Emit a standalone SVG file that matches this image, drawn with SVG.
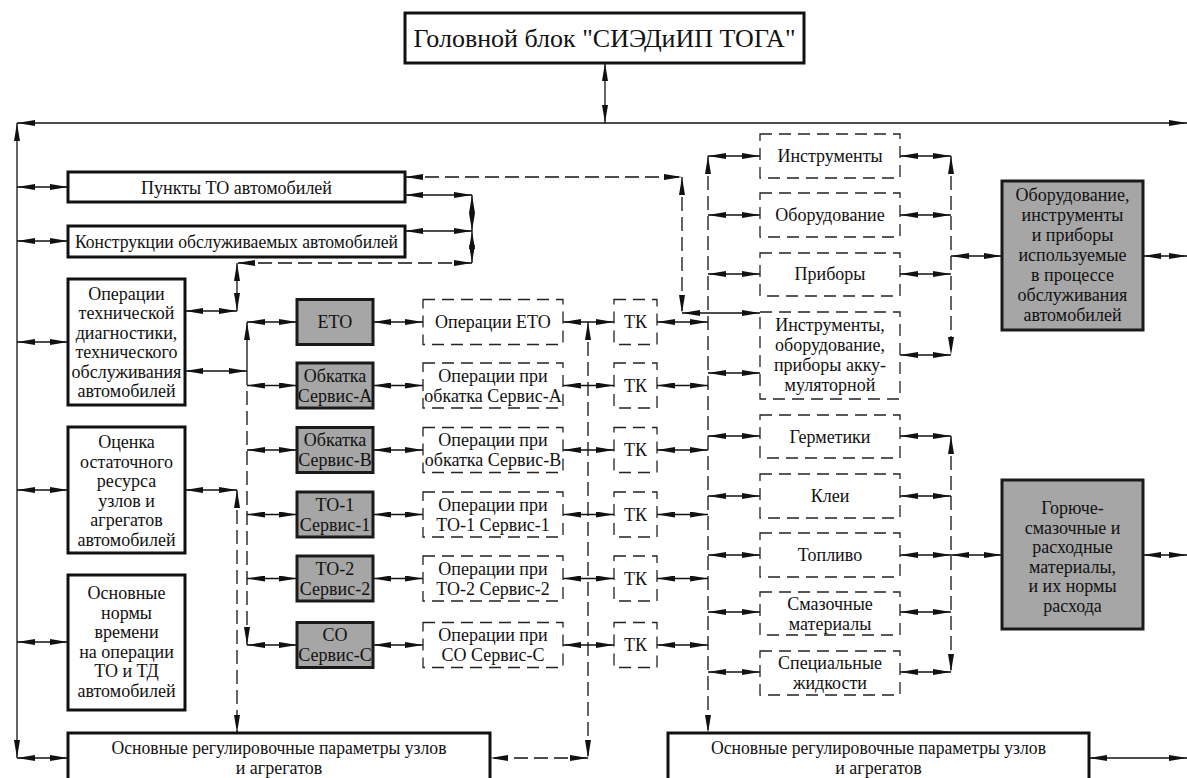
<svg xmlns="http://www.w3.org/2000/svg" width="1187" height="778" viewBox="0 0 1187 778" font-family="'Liberation Serif', 'Times New Roman', serif">
<defs>
<marker id="ah" viewBox="0 0 18 6" refX="18" refY="3" markerWidth="18" markerHeight="6" markerUnits="userSpaceOnUse" orient="auto-start-reverse">
<path d="M0,0 L18,3 L0,6 z" fill="#111"/>
</marker>
<style>
text{font-family:"Liberation Serif","Times New Roman",serif;font-size:18px;fill:#111;text-anchor:middle}
.big{font-size:26px}
.sb{fill:#fff;stroke:#111;stroke-width:3}
.gb{fill:#a6a6a6;stroke:#1a1a1a;stroke-width:3}
.db{fill:#fff;stroke:#222;stroke-width:1.3;stroke-dasharray:12 7}
.c line{stroke:#111;stroke-width:1.3;fill:none;marker-start:url(#ah);marker-end:url(#ah)}
.c .d{stroke-dasharray:14 6}
</style>
</defs>
<rect width="1187" height="778" fill="#fff"/>

<g class="c" id="connectors">
<line x1="605" y1="63" x2="605" y2="123"/>
<line x1="17" y1="123" x2="1187" y2="123"/>
<line x1="17" y1="123" x2="17" y2="758"/>
<line x1="17" y1="758" x2="68" y2="758"/>
<line x1="17" y1="187" x2="68" y2="187"/>
<line x1="17" y1="241" x2="68" y2="241"/>
<line x1="17" y1="342" x2="68" y2="342"/>
<line x1="17" y1="490" x2="68" y2="490"/>
<line x1="17" y1="642" x2="68" y2="642"/>
<line x1="405" y1="195" x2="472" y2="195"/>
<line x1="405" y1="231" x2="472" y2="231"/>
<line x1="472" y1="195" x2="472" y2="231"/>
<line class="d" x1="472" y1="231" x2="472" y2="263"/>
<line class="d" x1="472" y1="263" x2="237" y2="263"/>
<line x1="237" y1="263" x2="237" y2="311"/>
<line x1="185" y1="311" x2="237" y2="311"/>
<line class="d" x1="405" y1="177" x2="682" y2="177"/>
<line class="d" x1="682" y1="177" x2="682" y2="313"/>
<line x1="682" y1="313" x2="760" y2="313"/>
<line x1="185" y1="371" x2="247" y2="371"/>
<line x1="247" y1="322" x2="247" y2="371" style="marker-end:none"/>
<line class="d" x1="247" y1="371" x2="247" y2="645" style="marker-start:none"/>
<line x1="185" y1="490" x2="237" y2="490"/>
<line class="d" x1="237" y1="490" x2="237" y2="733"/>
<line x1="247" y1="322" x2="297" y2="322"/>
<line x1="247" y1="385.5" x2="297" y2="385.5"/>
<line x1="247" y1="450" x2="297" y2="450"/>
<line x1="247" y1="514.5" x2="297" y2="514.5"/>
<line x1="247" y1="578.5" x2="297" y2="578.5"/>
<line x1="247" y1="645" x2="297" y2="645"/>
<line x1="373" y1="322" x2="423" y2="322"/>
<line x1="373" y1="385.5" x2="423" y2="385.5"/>
<line x1="373" y1="450" x2="423" y2="450"/>
<line x1="373" y1="514.5" x2="423" y2="514.5"/>
<line x1="373" y1="578.5" x2="423" y2="578.5"/>
<line x1="373" y1="645" x2="423" y2="645"/>
<line x1="563" y1="322" x2="614" y2="322"/>
<line x1="563" y1="385.5" x2="614" y2="385.5"/>
<line x1="563" y1="450" x2="614" y2="450"/>
<line x1="563" y1="514.5" x2="614" y2="514.5"/>
<line x1="563" y1="578.5" x2="614" y2="578.5"/>
<line x1="563" y1="645" x2="614" y2="645"/>
<line x1="657" y1="322" x2="708" y2="322"/>
<line x1="657" y1="385.5" x2="708" y2="385.5"/>
<line x1="657" y1="450" x2="708" y2="450"/>
<line x1="657" y1="514.5" x2="708" y2="514.5"/>
<line x1="657" y1="578.5" x2="708" y2="578.5"/>
<line x1="657" y1="645" x2="708" y2="645"/>
<line class="d" x1="588" y1="322" x2="588" y2="758"/>
<line class="d" x1="588" y1="758" x2="490" y2="758"/>
<line class="d" x1="708" y1="156" x2="708" y2="733"/>
<line x1="708" y1="156" x2="760" y2="156"/>
<line x1="708" y1="215" x2="760" y2="215"/>
<line x1="708" y1="274" x2="760" y2="274"/>
<line x1="708" y1="373" x2="760" y2="373"/>
<line x1="708" y1="436" x2="760" y2="436"/>
<line x1="708" y1="496" x2="760" y2="496"/>
<line x1="708" y1="555" x2="760" y2="555"/>
<line x1="708" y1="612" x2="760" y2="612"/>
<line x1="708" y1="672" x2="760" y2="672"/>
<line x1="900" y1="156" x2="951" y2="156"/>
<line x1="900" y1="215" x2="951" y2="215"/>
<line x1="900" y1="274" x2="951" y2="274"/>
<line x1="900" y1="355" x2="951" y2="355"/>
<line class="d" x1="951" y1="156" x2="951" y2="355"/>
<line x1="900" y1="436" x2="951" y2="436"/>
<line x1="900" y1="496" x2="951" y2="496"/>
<line x1="900" y1="555" x2="951" y2="555"/>
<line x1="900" y1="612" x2="951" y2="612"/>
<line x1="900" y1="672" x2="951" y2="672"/>
<line class="d" x1="951" y1="436" x2="951" y2="672"/>
<line x1="951" y1="256" x2="1002" y2="256"/>
<line x1="1143" y1="256" x2="1187" y2="256"/>
<line x1="951" y1="555" x2="1002" y2="555"/>
<line x1="1143" y1="555" x2="1187" y2="555"/>
<line x1="1089" y1="758" x2="1187" y2="758"/>
</g>

<g id="head"><rect class="sb" x="405" y="13" width="399" height="50"/><text class="big" x="604.5" y="47">Головной блок "СИЭДиИП ТОГА"</text></g>

<g id="punkty"><rect class="sb" x="68" y="172" width="337" height="30"/><text x="236.5" y="193.5">Пункты ТО автомобилей</text></g>
<g id="konstr"><rect class="sb" x="68" y="226" width="337" height="31"/><text x="236.5" y="247.5" textLength="323" lengthAdjust="spacingAndGlyphs">Конструкции обслуживаемых автомобилей</text></g>
<g id="operacii"><rect class="sb" x="68" y="279" width="117" height="126"/>
<text x="126.5" y="299.5">Операции</text><text x="126.5" y="319">технической</text><text x="126.5" y="338.5">диагностики,</text><text x="126.5" y="358">технического</text><text x="126.5" y="377.5">обслуживания</text><text x="126.5" y="397">автомобилей</text></g>
<g id="ocenka"><rect class="sb" x="68" y="427" width="117" height="126"/>
<text x="126.5" y="448">Оценка</text><text x="126.5" y="467.5">остаточного</text><text x="126.5" y="487">ресурса</text><text x="126.5" y="506.5">узлов и</text><text x="126.5" y="526">агрегатов</text><text x="126.5" y="545.5">автомобилей</text></g>
<g id="normy"><rect class="sb" x="68" y="575" width="117" height="135"/>
<text x="126.5" y="599">Основные</text><text x="126.5" y="618.5">нормы</text><text x="126.5" y="638">времени</text><text x="126.5" y="657.5">на операции</text><text x="126.5" y="677">ТО и ТД</text><text x="126.5" y="696.5">автомобилей</text></g>
<g id="reg1"><rect class="sb" x="68" y="733" width="422" height="60"/><text x="279" y="754" textLength="335" lengthAdjust="spacingAndGlyphs">Основные регулировочные параметры узлов</text><text x="279" y="773.5">и агрегатов</text></g>
<g id="reg2"><rect class="sb" x="668" y="733" width="421" height="60"/><text x="878.5" y="754" textLength="335" lengthAdjust="spacingAndGlyphs">Основные регулировочные параметры узлов</text><text x="878.5" y="773.5">и агрегатов</text></g>

<g id="eto"><rect class="gb" x="297" y="299.5" width="76" height="45"/><text x="335" y="328">ЕТО</text></g>
<g id="obkA"><rect class="gb" x="297" y="363" width="76" height="45"/><text x="335" y="381.5">Обкатка</text><text x="335" y="401.5">Сервис-А</text></g>
<g id="obkB"><rect class="gb" x="297" y="427.5" width="76" height="45"/><text x="335" y="446">Обкатка</text><text x="335" y="466">Сервис-В</text></g>
<g id="to1"><rect class="gb" x="297" y="492" width="76" height="45"/><text x="335" y="510.5">ТО-1</text><text x="335" y="530.5">Сервис-1</text></g>
<g id="to2"><rect class="gb" x="297" y="556" width="76" height="45"/><text x="335" y="574.5">ТО-2</text><text x="335" y="594.5">Сервис-2</text></g>
<g id="co"><rect class="gb" x="297" y="622.5" width="76" height="45"/><text x="335" y="641">СО</text><text x="335" y="661">Сервис-С</text></g>

<g id="opEto"><rect class="db" x="423" y="299.5" width="140" height="45"/><text x="493" y="328">Операции ЕТО</text></g>
<g id="opA"><rect class="db" x="423" y="363" width="140" height="45"/><text x="493" y="381.5">Операции при</text><text x="493" y="401.5">обкатка Сервис-А</text></g>
<g id="opB"><rect class="db" x="423" y="427.5" width="140" height="45"/><text x="493" y="446">Операции при</text><text x="493" y="466">обкатка Сервис-В</text></g>
<g id="op1"><rect class="db" x="423" y="492" width="140" height="45"/><text x="493" y="510.5">Операции при</text><text x="493" y="530.5">ТО-1 Сервис-1</text></g>
<g id="op2"><rect class="db" x="423" y="556" width="140" height="45"/><text x="493" y="574.5">Операции при</text><text x="493" y="594.5">ТО-2 Сервис-2</text></g>
<g id="opC"><rect class="db" x="423" y="622.5" width="140" height="45"/><text x="493" y="641">Операции при</text><text x="493" y="661">СО Сервис-С</text></g>

<g id="tk1"><rect class="db" x="614" y="299.5" width="43" height="45"/><text x="635.5" y="328">ТК</text></g>
<g id="tk2"><rect class="db" x="614" y="363" width="43" height="45"/><text x="635.5" y="391.5">ТК</text></g>
<g id="tk3"><rect class="db" x="614" y="427.5" width="43" height="45"/><text x="635.5" y="456">ТК</text></g>
<g id="tk4"><rect class="db" x="614" y="492" width="43" height="45"/><text x="635.5" y="520.5">ТК</text></g>
<g id="tk5"><rect class="db" x="614" y="556" width="43" height="45"/><text x="635.5" y="584.5">ТК</text></g>
<g id="tk6"><rect class="db" x="614" y="622.5" width="43" height="45"/><text x="635.5" y="651">ТК</text></g>

<g id="instr"><rect class="db" x="760" y="134" width="140" height="44"/><text x="830" y="162">Инструменты</text></g>
<g id="obor"><rect class="db" x="760" y="193" width="140" height="44"/><text x="830" y="221">Оборудование</text></g>
<g id="pribory"><rect class="db" x="760" y="253" width="140" height="43"/><text x="830" y="280">Приборы</text></g>
<g id="akk"><rect class="db" x="760" y="312" width="140" height="87"/><text x="830" y="331">Инструменты,</text><text x="830" y="351">оборудование,</text><text x="830" y="371">приборы акку-</text><text x="830" y="391">муляторной</text></g>
<g id="germ"><rect class="db" x="760" y="415" width="140" height="43"/><text x="830" y="442.5">Герметики</text></g>
<g id="klei"><rect class="db" x="760" y="474" width="140" height="44"/><text x="830" y="502">Клеи</text></g>
<g id="topl"><rect class="db" x="760" y="533" width="140" height="44"/><text x="830" y="561">Топливо</text></g>
<g id="smaz"><rect class="db" x="760" y="592" width="140" height="43"/><text x="830" y="609.5">Смазочные</text><text x="830" y="629.5">материалы</text></g>
<g id="spec"><rect class="db" x="760" y="651" width="140" height="44"/><text x="830" y="669">Специальные</text><text x="830" y="689">жидкости</text></g>

<g id="gray1"><rect class="gb" x="1002" y="181" width="141" height="149"/>
<text x="1072.5" y="201">Оборудование,</text><text x="1072.5" y="221">инструменты</text><text x="1072.5" y="241">и приборы</text><text x="1072.5" y="261">используемые</text><text x="1072.5" y="281">в процессе</text><text x="1072.5" y="301">обслуживания</text><text x="1072.5" y="321">автомобилей</text></g>
<g id="gray2"><rect class="gb" x="1002" y="480" width="141" height="149"/>
<text x="1072.5" y="514">Горюче-</text><text x="1072.5" y="533.5">смазочные и</text><text x="1072.5" y="553">расходные</text><text x="1072.5" y="572.5">материалы,</text><text x="1072.5" y="592">и их нормы</text><text x="1072.5" y="611.5">расхода</text></g>
</svg>
